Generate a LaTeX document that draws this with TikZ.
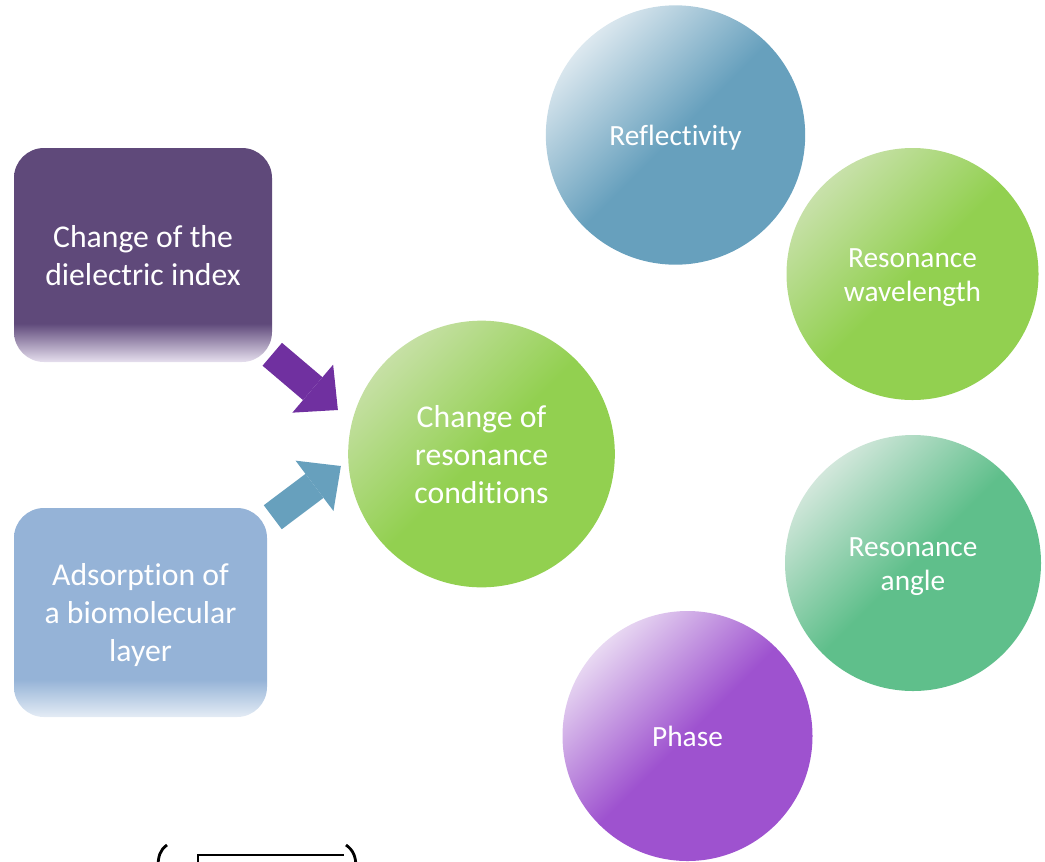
\documentclass[tikz,border=0pt]{standalone}
\usepackage{fontspec}
\setmainfont{Carlito}[Ligatures={NoCommon,NoDiscretionary}]
\usetikzlibrary{arrows.meta}

\definecolor{dielecfill}{HTML}{5F497A}
\definecolor{dieleclite}{HTML}{E6DFEE}
\definecolor{adsorbfill}{HTML}{95B3D7}
\definecolor{adsorblite}{HTML}{E4ECF5}
\definecolor{pushpurple}{HTML}{7030A0}
\definecolor{pushblue}{HTML}{67A0BD}
\definecolor{resonlite}{HTML}{C6E0A5}
\definecolor{greenfill}{HTML}{92D050}
\definecolor{refllite}{HTML}{DCE8EF}
\definecolor{reflfill}{HTML}{67A0BD}
\definecolor{wavellite}{HTML}{C8E1AA}
\definecolor{anglelite}{HTML}{D2E7DB}
\definecolor{anglefill}{HTML}{5FBF8B}
\definecolor{phaselite}{HTML}{E8D8F2}
\definecolor{phasefill}{HTML}{9E52CF}

% boxes fade out towards the bottom edge
\pgfdeclareverticalshading{dielecfade}{100bp}{color(0bp)=(dieleclite); color(25bp)=(dieleclite); color(34bp)=(dielecfill); color(100bp)=(dielecfill)}
\pgfdeclareverticalshading{adsorbfade}{100bp}{color(0bp)=(adsorblite); color(25bp)=(adsorblite); color(34bp)=(adsorbfill); color(100bp)=(adsorbfill)}

% full line box, put on the first and last line of a label
\newcommand\lb{\rule[-0.22em]{0pt}{1.14em}}

\begin{document}
\begin{tikzpicture}[x=0.75pt, y=-0.75pt,
    cause/.style={rectangle, rounded corners=22.5pt, inner sep=0pt, text=white, align=center,
        font=\fontsize{23.8}{28.5}\selectfont},
    ball/.style 2 args={circle, inner sep=0pt, text=white, align=center,
        top color=#1, bottom color=#2, middle color=#2, shading angle=45,
        font=\fontsize{22}{25.5}\selectfont},
    push/.style={line width=22.5pt, -{Triangle[length=24.75pt, width=47.25pt, line width=0pt]}}]
    \useasboundingbox (0,0) rectangle (1045,861);

    % what changes at the surface
    \node[cause, shading=dielecfade, minimum width=193.5pt, minimum height=160.5pt]
        (dielec) at (143,255) {\lb Change of the\\dielectric index\lb};
    \node[cause, shading=adsorbfade, minimum width=189.75pt, minimum height=156.75pt]
        (adsorb) at (140.5,612.5) {\lb Adsorption of\\a biomolecular\\layer\lb};

    % the effect
    \node[ball={resonlite}{greenfill}, minimum size=200pt,
        font=\fontsize{23.8}{28.5}\selectfont]
        (reson) at (481.5,454) {\lb Change of\\resonance\\conditions\lb};

    % what can be read out
    \node[ball={refllite}{reflfill}, minimum size=194.5pt] (refl) at (675.5,135) {\lb Reflectivity};
    \node[ball={wavellite}{greenfill}, minimum size=189pt] (wavel) at (912.5,274) {\lb Resonance\\wavelength\lb};
    \node[ball={anglelite}{anglefill}, minimum size=192pt] (angle) at (913,563) {\lb Resonance\\angle\lb};
    \node[ball={phaselite}{phasefill}, minimum size=187.5pt] (phase) at (687.5,736) {\lb Phase};

    % block arrows into the hub
    \coordinate (dtail) at ([shift={(0,-8)}]dielec.south east);
    \coordinate (dtip) at ([shift={(-10,-44)}]reson.west);
    \coordinate (atail) at ([shift={(5.5,9.5)}]adsorb.north east);
    \coordinate (atip) at ([shift={(-7,12)}]reson.west);
    \draw[push, pushpurple] (dtail) -- (dtip);
    \draw[push, pushblue] (atail) -- (atip);

    % cut-off formula at the bottom edge
    \draw[line width=2.1pt] (167,845) .. controls (160,850) and (158,856) .. (158,868);
    \draw[line width=2.1pt] (346,845) .. controls (353,850) and (356,856) .. (356,868);
    \draw[line width=1.9pt] (198,868) -- (198,855) -- (344,855);
\end{tikzpicture}
\end{document}
